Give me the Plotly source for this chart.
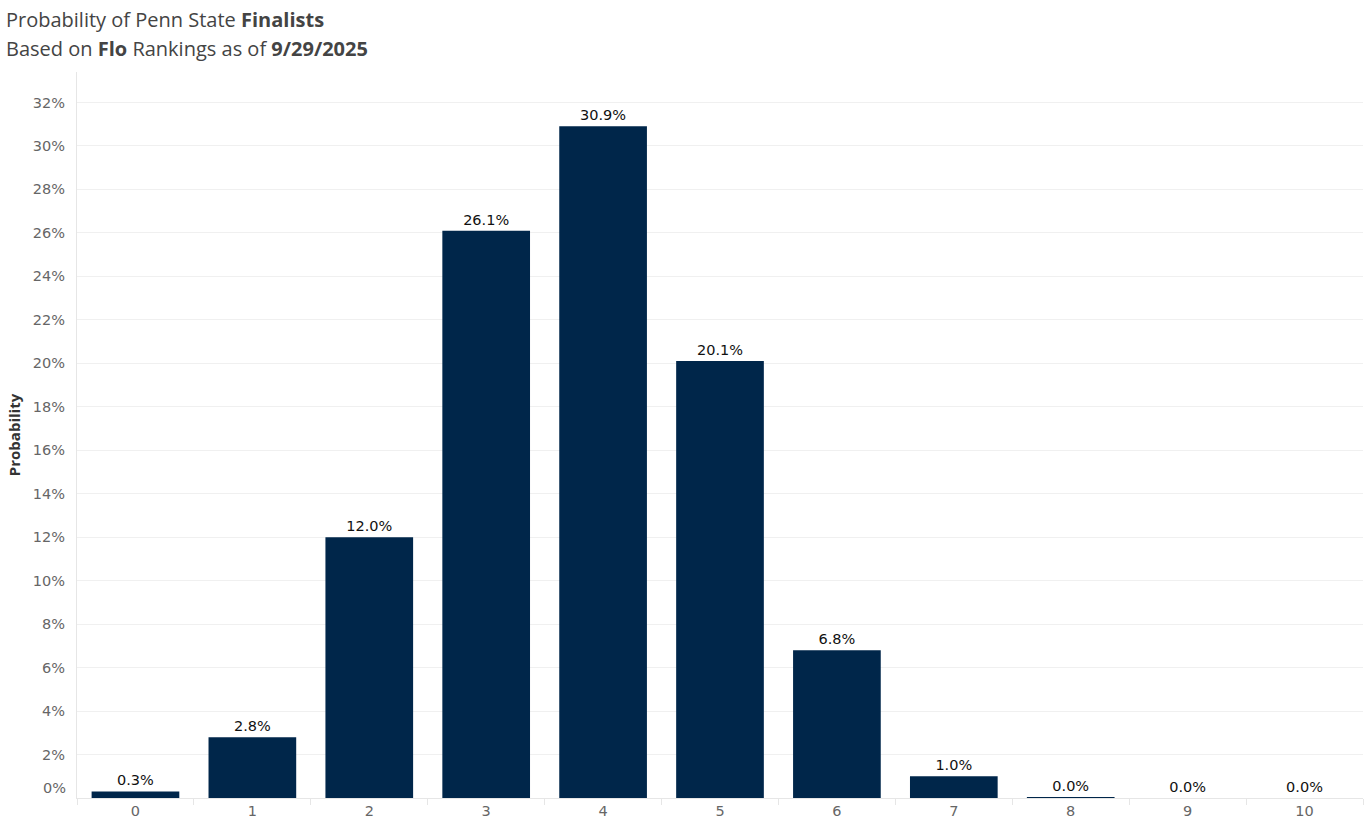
import plotly.graph_objects as go

categories = ["0", "1", "2", "3", "4", "5", "6", "7", "8", "9", "10"]
probabilities = [0.3, 2.8, 12.0, 26.1, 30.9, 20.1, 6.8, 1.0, 0.04, 0.0, 0.0]
y_tick_values = list(range(0, 33, 2))
y_tick_labels = [f"{v}%" for v in y_tick_values]
title_line1 = "Probability of Penn State <b>Finalists</b>"
title_line2 = "Based on <b>Flo</b> Rankings as of <b>9/29/2025</b>"

NAVY = "#00264A"
TITLE_FONT = "Open Sans"
TICK_FONT = "DejaVu Sans"

L, R, T, B = 77, 3, 72, 26
W, H = 1366, 824
PH = H - T - B
PW = W - L - R


def paper_y(px):
    return (H - B - px) / PH


def paper_x(px):
    return (px - L) / PW


fig = go.Figure()
fig.add_trace(go.Bar(
    x=categories,
    y=probabilities,
    marker=dict(color=NAVY, line=dict(width=0)),
    texttemplate="%{y:.1f}%",
    textposition="outside",
    cliponaxis=False,
    textfont=dict(family=TICK_FONT, size=14.5, color="#111111"),
    hoverinfo="skip",
))

ticktext = [""] + y_tick_labels[1:]

fig.update_layout(
    width=W, height=H,
    margin=dict(l=L, r=R, t=T, b=B),
    paper_bgcolor="white", plot_bgcolor="white",
    bargap=0.25,
    showlegend=False,
    xaxis=dict(
        type="category",
        tickfont=dict(family=TICK_FONT, size=14.5, color="#666666"),
        showline=True, linecolor="#e6e6e6", linewidth=1,
        ticks="outside", tickson="boundaries", ticklen=6, tickcolor="#e6e6e6",
        showgrid=False,
        fixedrange=True,
    ),
    yaxis=dict(
        range=[0, 33.4],
        tickvals=y_tick_values,
        ticktext=ticktext,
        tickfont=dict(family=TICK_FONT, size=14.5, color="#666666"),
        showgrid=True, gridcolor="#f0f0f0", gridwidth=1,
        zeroline=False,
        showline=True, linecolor="#e6e6e6", linewidth=1,
        ticks="", ticklabelstandoff=8,
        title=dict(text="<b>Probability</b>", font=dict(family=TITLE_FONT, size=15, color="#333333"), standoff=8),
        fixedrange=True,
    ),
    annotations=[
        dict(x=0, xref="paper", xanchor="right", xshift=-9,
             y=0, yref="y", yanchor="middle", yshift=10,
             text=y_tick_labels[0], showarrow=False,
             font=dict(family=TICK_FONT, size=14.5, color="#666666")),
        dict(x=paper_x(4), xref="paper", xanchor="left",
             y=paper_y(20), yref="paper", yanchor="middle",
             text=title_line1, showarrow=False,
             font=dict(family=TITLE_FONT, size=20, color="#444444")),
        dict(x=paper_x(4), xref="paper", xanchor="left",
             y=paper_y(48), yref="paper", yanchor="middle",
             text=title_line2, showarrow=False,
             font=dict(family=TITLE_FONT, size=20, color="#444444")),
    ],
)

fig.write_html("out.html", config={"displayModeBar": False},
               post_script="document.body.style.margin='0px';document.body.style.padding='0px';")
